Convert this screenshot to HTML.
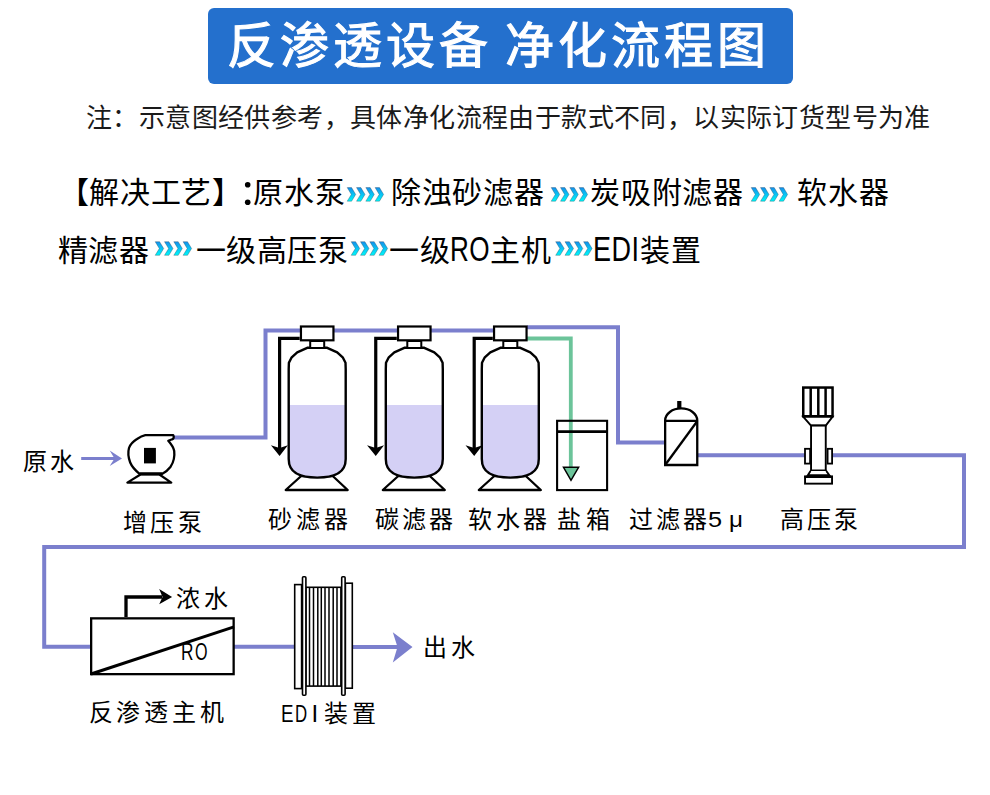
<!DOCTYPE html>
<html lang="zh-CN"><head><meta charset="utf-8">
<style>
html,body{margin:0;padding:0;background:#fff;}
body{width:990px;height:795px;position:relative;overflow:hidden;font-family:"Liberation Sans",sans-serif;color:#000;}
.a{position:absolute;white-space:nowrap;line-height:1;}
#tbox{position:absolute;left:208px;top:8px;width:585px;height:76px;background:#2470cd;border-radius:6px;}
#title{left:227px;top:22px;font-size:49px;color:#fff;letter-spacing:3.9px;word-spacing:-4px;-webkit-text-stroke:1.1px #fff;}
#note{left:86px;top:105px;font-size:26px;color:#1a1a1a;letter-spacing:0.4px;}
.l1{top:178px;font-size:30px;color:#000;letter-spacing:0.7px;}
.l2{top:236px;font-size:30px;color:#000;letter-spacing:0.5px;}
.lab{font-size:24px;color:#000;letter-spacing:4px;}
svg{position:absolute;left:0;top:0;}
.lat{display:inline-block;transform-origin:0 80%;}
</style></head><body>
<div id="tbox"></div>
<div class="a" id="title">反渗透设备 净化流程图</div>
<div class="a" id="note">注：示意图经供参考，具体净化流程由于款式不同，以实际订货型号为准</div>

<div class="a l1" style="left:58.5px">【解决工艺】</div>
<div class="a l1" style="left:253.3px">原水泵</div>
<div class="a l1" style="left:391px">除浊砂滤器</div>
<div class="a l1" style="left:590.4px">炭吸附滤器</div>
<div class="a l1" style="left:797.3px">软水器</div>

<div class="a l2" style="left:57.8px">精滤器</div>
<div class="a l2" style="left:195.7px">一级高压泵</div>
<div class="a l2" style="left:389px">一级<span class="lat" style="transform:scale(.87,1.15);margin-right:-5.8px">RO</span>主机</div>
<div class="a l2" style="left:593.3px"><span class="lat" style="transform:scale(.9,1.15);margin-right:-4.6px">EDI</span>装置</div>

<svg width="990" height="795" viewBox="0 0 990 795">
<defs>
<linearGradient id="chev" x1="0" y1="0" x2="0" y2="1">
<stop offset="0" stop-color="#1590ea"/><stop offset=".55" stop-color="#08c8f4"/><stop offset="1" stop-color="#00f8fa"/>
</linearGradient>
<g id="chevs"><path d="M0.2 0h4.4l4.1 6.8-4.1 6.8h-4.4l4.1-6.8z" fill="url(#chev)" stroke="rgba(30,50,70,.45)" stroke-width=".7"/><path d="M9.5 0h4.4l4.1 6.8-4.1 6.8h-4.4l4.1-6.8z" fill="url(#chev)" stroke="rgba(30,50,70,.45)" stroke-width=".7"/><path d="M18.8 0h4.4l4.1 6.8-4.1 6.8h-4.4l4.1-6.8z" fill="url(#chev)" stroke="rgba(30,50,70,.45)" stroke-width=".7"/><path d="M28.1 0h4.4l4.1 6.8-4.1 6.8h-4.4l4.1-6.8z" fill="url(#chev)" stroke="rgba(30,50,70,.45)" stroke-width=".7"/></g>
</defs>
<circle cx="247.7" cy="184.8" r="2.8"/><circle cx="247.7" cy="202.2" r="2.8"/>
<use href="#chevs" x="347" y="187.6"/>
<use href="#chevs" x="551" y="187.6"/>
<use href="#chevs" x="751" y="187.6"/>
<use href="#chevs" x="155" y="241.7"/>
<use href="#chevs" x="351" y="241.7"/>
<use href="#chevs" x="555.5" y="241.7"/>
<g fill="none" stroke="#7b7fcd" stroke-width="4" stroke-linejoin="miter" stroke-linecap="butt">
<path d="M174 437.6H265.5V330.4H495"/>
<path d="M527 327.3H618V442.6H665"/>
<path d="M697 455.2H805M832 455.2H964V547H44.2V646.7H91"/>
<path d="M234 646.8H295"/>
<path d="M352 647H398"/>
</g>
<path d="M81.2 458.4H116" stroke="#7b7fcd" stroke-width="3"/>
<path d="M109.7 450.5L122 458.4L109.7 466.1L114.5 458.4Z" fill="#7b7fcd"/>
<path d="M392.8 632.2L412.5 647L392.8 662.4L397.5 647Z" fill="#7b7fcd"/>

<path d="M527 338.5H570.8V468" fill="none" stroke="#6cc49a" stroke-width="3.8"/>
<rect x="557.1" y="420.8" width="50" height="69.3" fill="none" stroke="#000" stroke-width="2.1"/>
<path d="M557 431.6H608" stroke="#000" stroke-width="2.8"/>
<path d="M563.5 467.3H578.6L571 480.3Z" fill="#6cc49a" stroke="#000" stroke-width="1.5" stroke-linejoin="miter"/>

<path d="M301.2 476L332.7 476L347.7 490H285.7Z" fill="#fff" stroke="#000" stroke-width="2.3" stroke-linejoin="round"/><clipPath id="c317"><path d="M307.2 347.8L297.2 352.3L291.7 357.3L288.9 362.8L288.7 369V459C288.7 474 301.2 477.6 317.2 477.6C333.2 477.6 345.7 474 345.7 459V369L345.5 362.8L342.7 357.3L337.2 352.3L327.2 347.8Z"/></clipPath><path d="M307.2 347.8L297.2 352.3L291.7 357.3L288.9 362.8L288.7 369V459C288.7 474 301.2 477.6 317.2 477.6C333.2 477.6 345.7 474 345.7 459V369L345.5 362.8L342.7 357.3L337.2 352.3L327.2 347.8Z" fill="#fff"/><rect x="287.2" y="405" width="60" height="80" fill="#d4d0f5" clip-path="url(#c317)"/><path d="M307.2 347.8L297.2 352.3L291.7 357.3L288.9 362.8L288.7 369V459C288.7 474 301.2 477.6 317.2 477.6C333.2 477.6 345.7 474 345.7 459V369L345.5 362.8L342.7 357.3L337.2 352.3L327.2 347.8Z" fill="none" stroke="#000" stroke-width="2.4" stroke-linejoin="round"/><rect x="310.2" y="341" width="14" height="7" fill="#fff" stroke="#000" stroke-width="2"/><rect x="300.95" y="326.5" width="32.5" height="13.8" fill="#fff" stroke="#000" stroke-width="2.2"/><path d="M299.7 338.3H279.6V449" fill="none" stroke="#000" stroke-width="3.2"/><path d="M270.90000000000003 445.2L279.6 456L287.90000000000003 445.2L279.6 448Z" fill="#000"/>
<path d="M398.3 476L429.8 476L444.8 490H382.8Z" fill="#fff" stroke="#000" stroke-width="2.3" stroke-linejoin="round"/><clipPath id="c414"><path d="M404.3 347.8L394.3 352.3L388.8 357.3L386 362.8L385.8 369V459C385.8 474 398.3 477.6 414.3 477.6C430.3 477.6 442.8 474 442.8 459V369L442.6 362.8L439.8 357.3L434.3 352.3L424.3 347.8Z"/></clipPath><path d="M404.3 347.8L394.3 352.3L388.8 357.3L386 362.8L385.8 369V459C385.8 474 398.3 477.6 414.3 477.6C430.3 477.6 442.8 474 442.8 459V369L442.6 362.8L439.8 357.3L434.3 352.3L424.3 347.8Z" fill="#fff"/><rect x="384.3" y="405" width="60" height="80" fill="#d4d0f5" clip-path="url(#c414)"/><path d="M404.3 347.8L394.3 352.3L388.8 357.3L386 362.8L385.8 369V459C385.8 474 398.3 477.6 414.3 477.6C430.3 477.6 442.8 474 442.8 459V369L442.6 362.8L439.8 357.3L434.3 352.3L424.3 347.8Z" fill="none" stroke="#000" stroke-width="2.4" stroke-linejoin="round"/><rect x="407.3" y="341" width="14" height="7" fill="#fff" stroke="#000" stroke-width="2"/><rect x="398.05" y="326.5" width="32.5" height="13.8" fill="#fff" stroke="#000" stroke-width="2.2"/><path d="M396.8 338.3H375.75V449" fill="none" stroke="#000" stroke-width="3.2"/><path d="M367.05 445.2L375.75 456L384.05 445.2L375.75 448Z" fill="#000"/>
<path d="M494.3 476L525.8 476L540.8 490H478.8Z" fill="#fff" stroke="#000" stroke-width="2.3" stroke-linejoin="round"/><clipPath id="c510"><path d="M500.3 347.8L490.3 352.3L484.8 357.3L482 362.8L481.8 369V459C481.8 474 494.3 477.6 510.3 477.6C526.3 477.6 538.8 474 538.8 459V369L538.6 362.8L535.8 357.3L530.3 352.3L520.3 347.8Z"/></clipPath><path d="M500.3 347.8L490.3 352.3L484.8 357.3L482 362.8L481.8 369V459C481.8 474 494.3 477.6 510.3 477.6C526.3 477.6 538.8 474 538.8 459V369L538.6 362.8L535.8 357.3L530.3 352.3L520.3 347.8Z" fill="#fff"/><rect x="480.3" y="405" width="60" height="80" fill="#d4d0f5" clip-path="url(#c510)"/><path d="M500.3 347.8L490.3 352.3L484.8 357.3L482 362.8L481.8 369V459C481.8 474 494.3 477.6 510.3 477.6C526.3 477.6 538.8 474 538.8 459V369L538.6 362.8L535.8 357.3L530.3 352.3L520.3 347.8Z" fill="none" stroke="#000" stroke-width="2.4" stroke-linejoin="round"/><rect x="503.3" y="341" width="14" height="7" fill="#fff" stroke="#000" stroke-width="2"/><rect x="494.05" y="326.5" width="32.5" height="13.8" fill="#fff" stroke="#000" stroke-width="2.2"/><path d="M492.8 338.3H474.2V449" fill="none" stroke="#000" stroke-width="3.2"/><path d="M465.5 445.2L474.2 456L482.5 445.2L474.2 448Z" fill="#000"/>
<path d="M665.15 465V420.5A16 12 0 0 1 697.25 420.5V465Z" fill="#fff" stroke="#000" stroke-width="2.3"/>
<path d="M665 420.8H697.5" stroke="#000" stroke-width="2.3"/>
<path d="M665.5 464.5L697 421.5" stroke="#000" stroke-width="2.3"/>
<rect x="677.2" y="401" width="4.2" height="7.5" fill="#000"/>
<path d="M140.5 474.5H159.4L171.3 482.6H127.3Z" fill="#fff" stroke="#000" stroke-width="2.2" stroke-linejoin="round"/>
<path d="M145.3 435.2H173.3C174.3 437 173.5 439 172.2 439.3L168.3 440.8C171.5 444.5 173.6 447.5 174.2 451C174.8 456 174 461.5 170.6 466.7C168 470 165 472.5 162.4 473.8H139.5C135.5 470.5 132 467 130.2 462.5C128.3 457.5 127.9 452 129 448C130 445 133 441.5 137 439C140 437 142.5 435.8 145.3 435.2Z" fill="#fff" stroke="#000" stroke-width="2.3" stroke-linejoin="round"/>
<path d="M139.5 473.8H162.4" stroke="#000" stroke-width="3"/>
<rect x="144" y="447.9" width="11.9" height="15.5" fill="#000"/>
<rect x="803.25" y="387.55" width="29.3" height="28.7" fill="#fff" stroke="#000" stroke-width="2.5"/>
<path d="M810.7 387.5V416" stroke="#000" stroke-width="2.5"/>
<path d="M818.3 387.5V416" stroke="#000" stroke-width="2.5"/>
<path d="M825.6 387.5V416" stroke="#000" stroke-width="2.5"/>
<path d="M803.3 416.8H832.5L825.8 425.6H811Z" fill="#fff" stroke="#000" stroke-width="2"/>
<rect x="811.05" y="425.6" width="14.7" height="45" fill="#fff" stroke="#000" stroke-width="1.9"/>
<rect x="805" y="448.8" width="5.1" height="14.8" fill="#fff" stroke="#000" stroke-width="1.8"/>
<rect x="827.6" y="448.8" width="4.5" height="14.8" fill="#fff" stroke="#000" stroke-width="1.8"/>
<path d="M810.1 471.3H826.7" stroke="#000" stroke-width="3"/>
<path d="M810.5 471L807.8 475.3H829.4L826.3 471" fill="#fff" stroke="#000" stroke-width="1.9"/>
<rect x="805.05" y="477.05" width="27" height="6.6" fill="#fff" stroke="#000" stroke-width="1.9"/>
<path d="M804.1 476.6H833" stroke="#000" stroke-width="2.4"/>
<rect x="91.15" y="618.35" width="142.5" height="55.8" fill="#fff" stroke="#000" stroke-width="2.3"/>
<path d="M91 674L234 626.9" stroke="#000" stroke-width="3"/>
<path d="M126 617V597H162" fill="none" stroke="#000" stroke-width="3.3"/>
<path d="M159.2 588.9L172.1 597L159.2 604.2L162.5 597Z" fill="#000"/>
<g fill="#fff" stroke="#000" stroke-width="1.6">
<rect x="294.7" y="584.6" width="6.9" height="104"/>
<rect x="345.4" y="583.2" width="6.9" height="105"/>
<rect x="305.9" y="587.3" width="35" height="98.8"/>
<rect x="302.5" y="576.8" width="3.4" height="118.4" rx="1"/>
<rect x="341.7" y="576.8" width="3.4" height="118.4" rx="1"/>
</g>
<g stroke="#000" stroke-width="1.5">
<path d="M309.5 587.5V686"/>
<path d="M313.5 587.5V686"/>
<path d="M317.8 587.5V686"/>
<path d="M321.3 587.5V686"/>
<path d="M325 587.5V686"/>
<path d="M329 587.5V686"/>
<path d="M333.2 587.5V686"/>
<path d="M337 587.5V686"/>
</g>
</svg>

<div class="a lab" style="left:22.5px;top:450px;letter-spacing:3.5px">原水</div>
<div class="a lab" style="left:122.5px;top:511px;letter-spacing:3.9px">增压泵</div>
<div class="a lab" style="left:267.5px;top:508px;letter-spacing:4.2px">砂滤器</div>
<div class="a lab" style="left:374.5px;top:508px;letter-spacing:3.4px">碳滤器</div>
<div class="a lab" style="left:468px;top:508px;letter-spacing:3.7px">软水器</div>
<div class="a lab" style="left:557px;top:508px;letter-spacing:4.5px">盐箱</div>
<div class="a lab" style="left:629px;top:508px;letter-spacing:2.9px">过滤器</div>
<div class="a lat" style="left:708.3px;top:509px;font-size:22px;transform:scaleX(1.15)">5</div>
<div class="a lat" style="left:728.5px;top:509px;font-size:22px;transform:scaleX(1.1)">μ</div>
<div class="a lab" style="left:779.5px;top:508px;letter-spacing:3.3px">高压泵</div>
<div class="a lab" style="left:176px;top:587px;letter-spacing:4px">浓水</div>
<div class="a lat" style="left:180.5px;top:641px;font-size:23px;transform:scaleX(.75)">R</div>
<div class="a lat" style="left:194.5px;top:641px;font-size:23px;transform:scaleX(.7)">O</div>
<div class="a lab" style="left:88.8px;top:701px;letter-spacing:3.7px">反渗透主机</div>
<div class="a lat" style="left:280.5px;top:702px;font-size:24px;transform:scaleX(.78)">E</div>
<div class="a lat" style="left:294.5px;top:702px;font-size:24px;transform:scaleX(.7)">D</div>
<div class="a lat" style="left:311.5px;top:702px;font-size:24px;transform:scaleX(1)">I</div>
<div class="a lab" style="left:323.5px;top:702px;letter-spacing:4px">装置</div>
<div class="a lab" style="left:422.5px;top:636px;letter-spacing:4px">出水</div>
</body></html>
